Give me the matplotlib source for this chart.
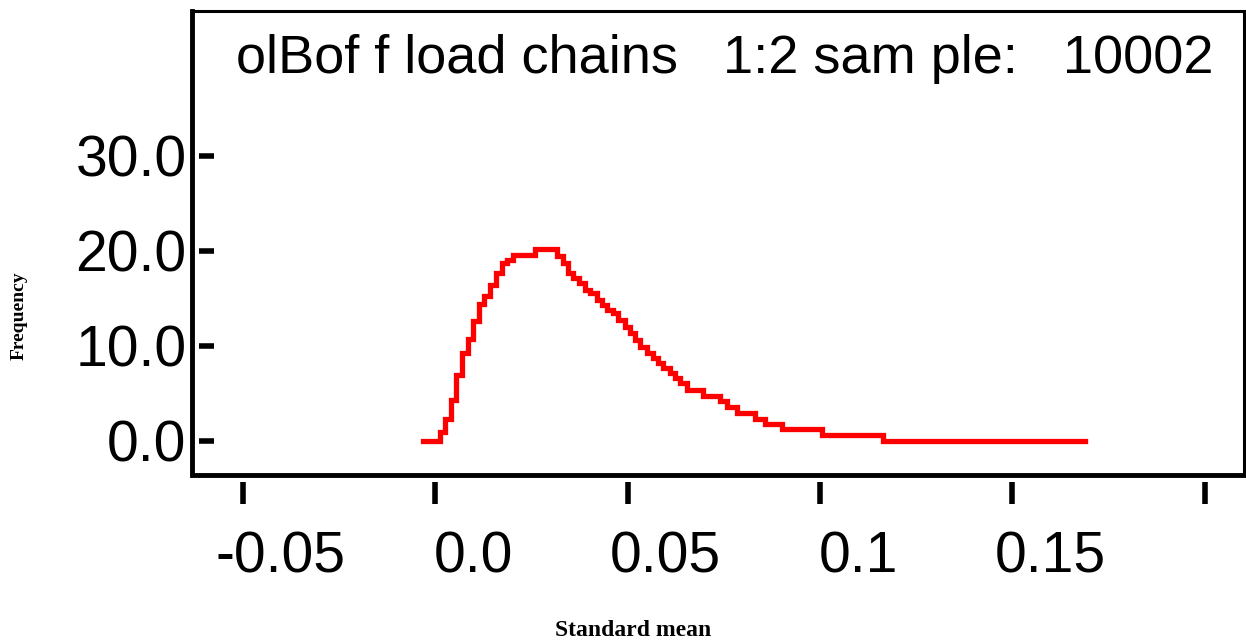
import numpy as np
import matplotlib
matplotlib.use("Agg")
import matplotlib.pyplot as plt
import matplotlib.transforms as mtransforms

# step positions (Standard mean) and frequency level of each step
mean_vals = [-0.0031, 0.0013, 0.0026, 0.0042, 0.0055, 0.0070, 0.0086, 0.0099,
             0.0114, 0.0127, 0.0143, 0.0159, 0.0174, 0.0187, 0.0203, 0.0260,
             0.0317, 0.0333, 0.0346, 0.0359, 0.0374, 0.0390, 0.0403, 0.0421,
             0.0434, 0.0447, 0.0463, 0.0476, 0.0494, 0.0507, 0.0520, 0.0533,
             0.0551, 0.0567, 0.0580, 0.0593, 0.0611, 0.0624, 0.0637, 0.0655,
             0.0697, 0.0741, 0.0759, 0.0785, 0.0832, 0.0858, 0.0902, 0.1006,
             0.1164, 0.1689]
freq_vals = [0.0, 0.9, 2.3, 4.3, 6.9, 9.2, 10.7, 12.6,
             14.4, 15.2, 16.4, 17.6, 18.7, 19.0, 19.5, 20.2,
             19.4, 18.7, 17.6, 17.1, 16.6, 15.9, 15.5, 14.8,
             14.3, 13.7, 13.4, 12.7, 12.0, 11.3, 10.6, 9.8,
             9.2, 8.7, 8.2, 7.6, 7.1, 6.6, 6.1, 5.3,
             4.7, 4.2, 3.5, 2.9, 2.3, 1.7, 1.2, 0.6,
             0.0, 0.0]

xticks = [-0.05, 0.0, 0.05, 0.1, 0.15, 0.2]
xtick_labels = ["-0.05", "0.0", "0.05", "0.1", "0.15", ""]
yticks = [0, 10, 20, 30]
ytick_labels = ["0.0", "10.0", "20.0", "30.0"]

title = "olBof f load chains   1:2 sam ple:   10002"

fig = plt.figure(figsize=(12.46, 6.43), dpi=100)
ax = fig.add_axes([192 / 1246, 1 - 475 / 643, (1244 - 192) / 1246, (475 - 11) / 643])

ax.plot(mean_vals, freq_vals, drawstyle="steps-post", color="red", lw=3.8,
        solid_joinstyle="miter")

ax.set_xlim(-0.0632, 0.2102)
ax.set_ylim(-3.63, 45.24)

# frame: heavy left/bottom, lighter top/right; tick spines offset and hidden
for s in ax.spines.values():
    s.set_visible(False)
ax.plot([0, 0, 1], [1, 0, 0], transform=ax.transAxes, color="black", lw=3.5,
        clip_on=False, solid_joinstyle="miter", zorder=5)
ax.plot([0, 1, 1], [1, 1, 0], transform=ax.transAxes, color="black", lw=2.2,
        clip_on=False, solid_joinstyle="miter", zorder=5)
ax.spines["bottom"].set_position(("outward", 5))
ax.spines["left"].set_position(("outward", -5))

ax.set_xticks(xticks)
ax.set_xticklabels(xtick_labels, family="Liberation Sans", fontsize=41)
ax.set_yticks(yticks)
ax.set_yticklabels(ytick_labels, family="Liberation Sans", fontsize=41)
ax.tick_params(axis="x", direction="out", length=16, width=4, pad=19)
ax.tick_params(axis="y", direction="in", length=11, width=4, pad=9)

off = mtransforms.ScaledTranslation(38 / 100, 0, fig.dpi_scale_trans)
for lab in ax.get_xticklabels():
    lab.set_transform(lab.get_transform() + off)

ax.text(0.506, 0.95, title, transform=ax.transAxes, ha="center", va="top",
        family="Liberation Sans", fontsize=39)

fig.text(633 / 1246, 1 - 631 / 643, "Standard mean", ha="center", va="center",
         family="Liberation Serif", weight="bold", fontsize=17)
fig.text(19 / 1246, 1 - 316 / 643, "Frequency", ha="center", va="center",
         rotation=90, family="Liberation Serif", weight="bold", fontsize=14)

fig.savefig("out.png", dpi=100)
